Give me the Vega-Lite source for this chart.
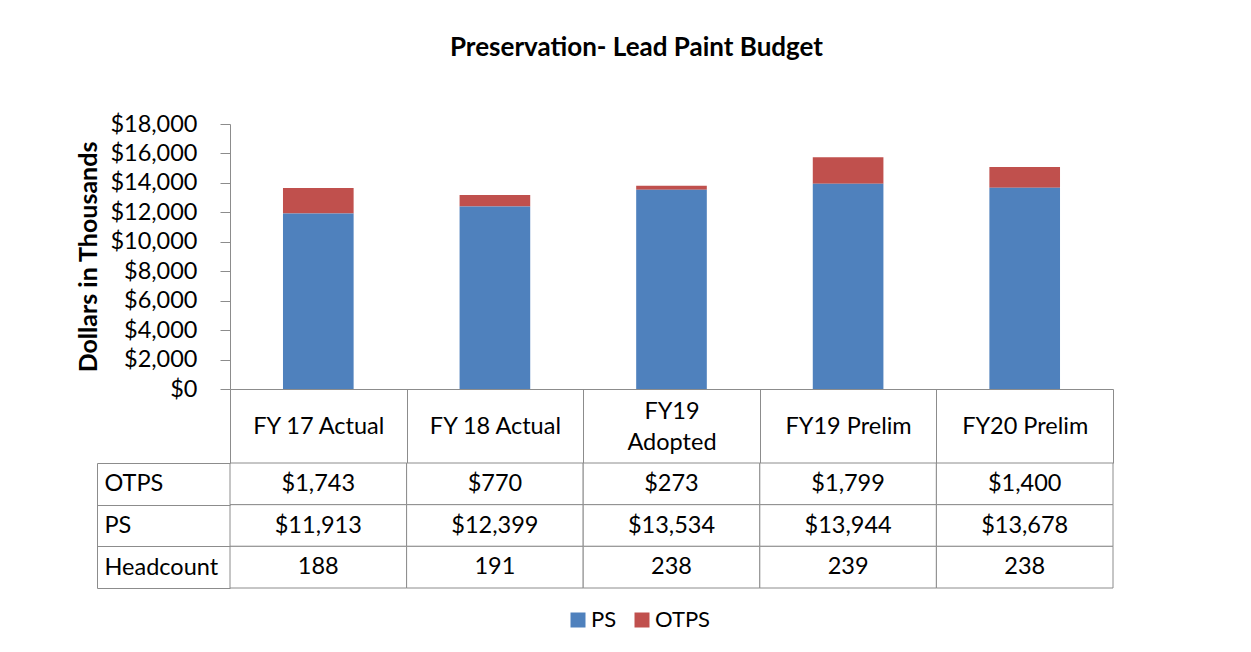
{
  "$schema": "https://vega.github.io/schema/vega-lite/v6.json",
  "padding": {"left": 76, "top": 35, "right": 5, "bottom": 5},
  "background": "white",
  "spacing": 74,
  "bounds": "flush",
  "config": {"font": "Lato", "view": {"stroke": null}},
  "datasets": {
    "budget": [
      {"category": "FY 17 Actual", "row": "OTPS", "value": 1743},
      {"category": "FY 18 Actual", "row": "OTPS", "value": 770},
      {"category": "FY19 Adopted", "row": "OTPS", "value": 273},
      {"category": "FY19 Prelim", "row": "OTPS", "value": 1799},
      {"category": "FY20 Prelim", "row": "OTPS", "value": 1400},
      {"category": "FY 17 Actual", "row": "PS", "value": 11913},
      {"category": "FY 18 Actual", "row": "PS", "value": 12399},
      {"category": "FY19 Adopted", "row": "PS", "value": 13534},
      {"category": "FY19 Prelim", "row": "PS", "value": 13944},
      {"category": "FY20 Prelim", "row": "PS", "value": 13678},
      {"category": "FY 17 Actual", "row": "Headcount", "value": 188},
      {"category": "FY 18 Actual", "row": "Headcount", "value": 191},
      {"category": "FY19 Adopted", "row": "Headcount", "value": 238},
      {"category": "FY19 Prelim", "row": "Headcount", "value": 239},
      {"category": "FY20 Prelim", "row": "Headcount", "value": 238}
    ]
  },
  "vconcat": [
    {
      "width": 883,
      "height": 265,
      "title": {"text": "Preservation- Lead Paint Budget", "fontSize": 26, "fontWeight": "bold", "font": "Lato", "color": "black", "offset": 51, "dx": -35},
      "data": {"name": "budget"},
      "transform": [{"filter": "datum.row != 'Headcount'"}],
      "mark": {"type": "bar", "width": {"band": 0.4}},
      "encoding": {
        "x": {
          "field": "category", "type": "nominal", "sort": null,
          "scale": {"paddingInner": 0, "paddingOuter": 0},
          "axis": {
            "title": null, "labelAngle": 0, "tickBand": "extent", "tickSize": 74,
            "tickColor": "#8c8c8c", "domainColor": "#8c8c8c", "labelFontSize": 23.5,
            "labelColor": "black", "labelBaseline": "middle",
            "labelPadding": {"condition": {"test": "datum.value == 'FY19 Adopted'", "value": -52}, "value": -37},
            "labelLineHeight": 31, "labelFont": "Lato",
            "labelExpr": "datum.value == 'FY19 Adopted' ? ['FY19', 'Adopted'] : datum.value"
          }
        },
        "y": {
          "field": "value", "type": "quantitative", "stack": "zero",
          "scale": {"domain": [0, 18000]},
          "axis": {
            "title": "Dollars in Thousands", "values": [0, 2000, 4000, 6000, 8000, 10000, 12000, 14000, 16000, 18000],
            "format": "$,d", "grid": false, "tickSize": 10, "labelFontSize": 23.5, "titleFontSize": 25,
            "titleFontWeight": "bold", "titleColor": "black", "labelColor": "black", "tickColor": "#8c8c8c",
            "domainColor": "#8c8c8c", "labelPadding": 23, "titlePadding": 8, "labelFont": "Lato", "titleFont": "Lato"
          }
        },
        "color": {
          "field": "row", "type": "nominal",
          "scale": {"domain": ["PS", "OTPS"], "range": ["#4F81BD", "#C0504D"]},
          "legend": {
            "title": null, "orient": "none", "legendX": 337, "legendY": 485, "direction": "horizontal", "symbolType": "square",
            "labelFontSize": 22, "symbolSize": 225, "symbolStrokeWidth": 0, "labelColor": "black", "labelFont": "Lato",
            "columnPadding": 14, "labelOffset": 2
          }
        },
        "order": {"field": "row", "sort": "descending"}
      }
    },
    {
      "width": 883,
      "height": 125,
      "data": {"name": "budget"},
      "encoding": {
        "x": {"field": "category", "type": "nominal", "sort": null, "scale": {"paddingInner": 0, "paddingOuter": 0}, "axis": null},
        "y": {
          "field": "row", "type": "nominal", "sort": ["OTPS", "PS", "Headcount"],
          "scale": {"domain": ["OTPS", "PS", "Headcount"], "paddingInner": 0, "paddingOuter": 0},
          "axis": {
            "title": null, "tickBand": "extent", "tickSize": -133, "offset": 133, "labelAlign": "left", "labelPadding": 126,
            "labelFontSize": 23.5, "labelColor": "black", "tickColor": "#8c8c8c", "domainColor": "#8c8c8c", "labelFont": "Lato"
          }
        }
      },
      "layer": [
        {"mark": {"type": "rect", "fill": "white", "stroke": "#8c8c8c", "strokeWidth": 1}},
        {
          "transform": [{"filter": "datum.row != 'Headcount'"}],
          "mark": {"type": "text", "fontSize": 23.5, "font": "Lato", "color": "black"},
          "encoding": {"text": {"field": "value", "type": "quantitative", "format": "$,d"}}
        },
        {
          "transform": [{"filter": "datum.row == 'Headcount'"}],
          "mark": {"type": "text", "fontSize": 23.5, "font": "Lato", "color": "black"},
          "encoding": {"text": {"field": "value", "type": "quantitative", "format": "d"}}
        }
      ]
    }
  ]
}
